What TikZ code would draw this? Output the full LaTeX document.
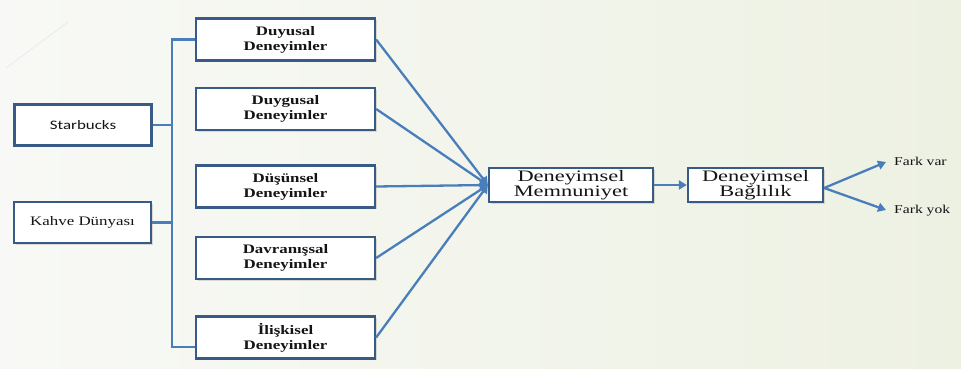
\documentclass[tikz,border=0pt]{standalone}
\usepackage{fontspec}
\usetikzlibrary{arrows.meta,shadows,calc}
\setmainfont{Liberation Serif}
\newfontfamily\sansw{Carlito}
\newcommand\stx[1]{\scalebox{1.4}[1]{#1}}
\newcommand\sty[1]{\scalebox{1.3}[1]{#1}}
\definecolor{boxc}{HTML}{375A86}
\definecolor{linec}{HTML}{4A7EBB}
\definecolor{txtc}{HTML}{141414}
\definecolor{bgl}{HTML}{F8F9F6}
\definecolor{bgr}{HTML}{EDF1E2}
\tikzset{
  boxbase/.style={draw=boxc, line width=2.3pt, fill=white, inner sep=0pt, align=center, text=txtc,
    drop shadow={shadow xshift=1.5pt, shadow yshift=-1.5pt, opacity=0.25}},
  expbox/.style={boxbase, minimum width=179pt, minimum height=42pt,
    font=\bfseries\fontsize{13}{15}\selectfont},
  brandbox/.style={boxbase, minimum width=137pt, minimum height=41pt},
  midbox/.style={boxbase, minimum height=34pt, font=\fontsize{16}{14}\selectfont},
  conn/.style={draw=linec, line width=2.3pt},
  arr/.style={conn, -{Triangle[width=9pt,length=8pt]}},
  lbl/.style={inner sep=0pt, anchor=west, text=txtc, font=\fontsize{12}{13}\selectfont}
}
\begin{document}
\begin{tikzpicture}[x=1pt,y=-1pt]
\useasboundingbox (0,0) rectangle (961,369);
\shade[left color=bgl, right color=bgr] (0,0) rectangle (961,369);
\draw[black!8, line width=0.8pt] (6,68) -- (68,22);
\draw[black!8, line width=0.8pt] (12,144) -- (26,132);

% brand boxes
\node[brandbox, font=\sansw\fontsize{13}{14}\selectfont] (sb) at (83,125) {\sty{Starbucks}};
\node[brandbox, font=\fontsize{13}{14}\selectfont] (kd) at (82.5,222.5) {\sty{Kahve Dünyası}};

% experience boxes
\node[expbox] (e1) at (285.5,39.5) {\sty{Duyusal}\\\sty{Deneyimler}};
\node[expbox] (e2) at (285.5,109) {\sty{Duygusal}\\\sty{Deneyimler}};
\node[expbox] (e3) at (285.5,186.5) {\sty{Düşünsel}\\\sty{Deneyimler}};
\node[expbox] (e4) at (285.5,258) {\sty{Davranışsal}\\\sty{Deneyimler}};
\node[expbox] (e5) at (285.5,337.5) {\sty{İlişkisel}\\\sty{Deneyimler}};

% middle boxes
\node[midbox, minimum width=164pt] (mm) at (571,185) {\stx{Deneyimsel}\\\stx{Memnuniyet}};
\node[midbox, minimum width=135pt] (bg) at (755.5,185) {\stx{Deneyimsel}\\\stx{Bağlılık}};

% outcome labels
\node[lbl] (fv) at (894,161) {\sty{Fark var}};
\node[lbl] (fy) at (894,211) {\sty{Fark yok}};

% bus
\coordinate (bt) at (172,39.5);
\coordinate (bb) at (172,347);
\draw[conn] (e1.west) -- (bt) -- (bb) -- (bb -| e5.west);
\draw[conn] (sb.east) -- (sb.east -| bt);
\draw[conn] (kd.east) -- (kd.east -| bt);

% converging arrows
\foreach \n in {e1,e2,e3,e4,e5}
  \draw[arr] (\n.east) -- (mm.west);
\draw[arr] (mm.east) -- (bg.west);

% fork
\coordinate (fk) at ($(bg.east)+(0,3)$);
\coordinate (tv) at ($(fv.west)+(-8,1)$);
\coordinate (ty) at ($(fy.west)+(-8,-1)$);
\draw[arr] (fk) -- (tv);
\draw[arr] (fk) -- (ty);
\end{tikzpicture}
\end{document}
